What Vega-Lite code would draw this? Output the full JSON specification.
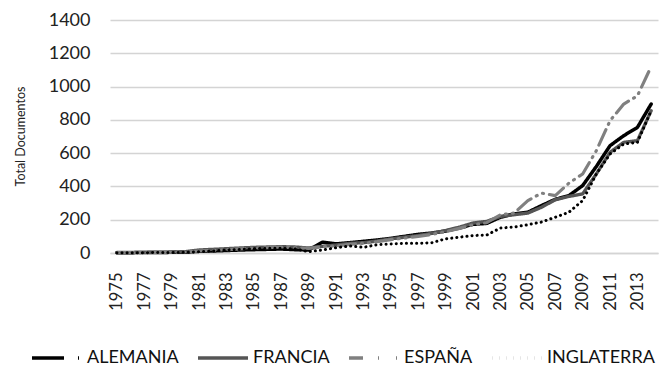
{
  "$schema": "https://vega.github.io/schema/vega-lite/v6.json",
  "width": 548,
  "height": 233,
  "autosize": {"type": "none"},
  "padding": {"left": 110, "top": 20, "right": 4, "bottom": 113},
  "background": "white",
  "config": {"font": "Lato", "view": {"stroke": null}},
  "datasets": {
    "d": [
      {"year":"1975","ALEMANIA":2,"FRANCIA":3,"ESPAÑA":2,"INGLATERRA":2},
      {"year":"1976","ALEMANIA":2,"FRANCIA":3,"ESPAÑA":2,"INGLATERRA":2},
      {"year":"1977","ALEMANIA":3,"FRANCIA":4,"ESPAÑA":3,"INGLATERRA":2},
      {"year":"1978","ALEMANIA":3,"FRANCIA":5,"ESPAÑA":4,"INGLATERRA":3},
      {"year":"1979","ALEMANIA":4,"FRANCIA":6,"ESPAÑA":5,"INGLATERRA":3},
      {"year":"1980","ALEMANIA":5,"FRANCIA":8,"ESPAÑA":6,"INGLATERRA":4},
      {"year":"1981","ALEMANIA":10,"FRANCIA":18,"ESPAÑA":12,"INGLATERRA":8},
      {"year":"1982","ALEMANIA":12,"FRANCIA":22,"ESPAÑA":15,"INGLATERRA":12},
      {"year":"1983","ALEMANIA":15,"FRANCIA":26,"ESPAÑA":20,"INGLATERRA":18},
      {"year":"1984","ALEMANIA":18,"FRANCIA":30,"ESPAÑA":25,"INGLATERRA":22},
      {"year":"1985","ALEMANIA":20,"FRANCIA":34,"ESPAÑA":30,"INGLATERRA":26},
      {"year":"1986","ALEMANIA":22,"FRANCIA":36,"ESPAÑA":32,"INGLATERRA":28},
      {"year":"1987","ALEMANIA":24,"FRANCIA":38,"ESPAÑA":36,"INGLATERRA":28},
      {"year":"1988","ALEMANIA":20,"FRANCIA":36,"ESPAÑA":32,"INGLATERRA":25},
      {"year":"1989","ALEMANIA":18,"FRANCIA":30,"ESPAÑA":28,"INGLATERRA":8},
      {"year":"1990","ALEMANIA":65,"FRANCIA":40,"ESPAÑA":38,"INGLATERRA":18},
      {"year":"1991","ALEMANIA":55,"FRANCIA":48,"ESPAÑA":42,"INGLATERRA":32},
      {"year":"1992","ALEMANIA":62,"FRANCIA":58,"ESPAÑA":52,"INGLATERRA":42},
      {"year":"1993","ALEMANIA":70,"FRANCIA":62,"ESPAÑA":58,"INGLATERRA":34},
      {"year":"1994","ALEMANIA":78,"FRANCIA":72,"ESPAÑA":68,"INGLATERRA":50},
      {"year":"1995","ALEMANIA":88,"FRANCIA":85,"ESPAÑA":80,"INGLATERRA":54},
      {"year":"1996","ALEMANIA":100,"FRANCIA":95,"ESPAÑA":90,"INGLATERRA":58},
      {"year":"1997","ALEMANIA":112,"FRANCIA":105,"ESPAÑA":100,"INGLATERRA":58},
      {"year":"1998","ALEMANIA":120,"FRANCIA":118,"ESPAÑA":112,"INGLATERRA":62},
      {"year":"1999","ALEMANIA":132,"FRANCIA":135,"ESPAÑA":128,"INGLATERRA":85},
      {"year":"2000","ALEMANIA":150,"FRANCIA":155,"ESPAÑA":148,"INGLATERRA":95},
      {"year":"2001","ALEMANIA":172,"FRANCIA":180,"ESPAÑA":170,"INGLATERRA":105},
      {"year":"2002","ALEMANIA":178,"FRANCIA":190,"ESPAÑA":182,"INGLATERRA":108},
      {"year":"2003","ALEMANIA":215,"FRANCIA":220,"ESPAÑA":230,"INGLATERRA":150},
      {"year":"2004","ALEMANIA":235,"FRANCIA":230,"ESPAÑA":240,"INGLATERRA":156},
      {"year":"2005","ALEMANIA":245,"FRANCIA":240,"ESPAÑA":315,"INGLATERRA":170},
      {"year":"2006","ALEMANIA":285,"FRANCIA":275,"ESPAÑA":360,"INGLATERRA":186},
      {"year":"2007","ALEMANIA":322,"FRANCIA":320,"ESPAÑA":345,"INGLATERRA":215},
      {"year":"2008","ALEMANIA":345,"FRANCIA":340,"ESPAÑA":420,"INGLATERRA":245},
      {"year":"2009","ALEMANIA":405,"FRANCIA":355,"ESPAÑA":475,"INGLATERRA":315},
      {"year":"2010","ALEMANIA":520,"FRANCIA":475,"ESPAÑA":615,"INGLATERRA":475},
      {"year":"2011","ALEMANIA":645,"FRANCIA":605,"ESPAÑA":795,"INGLATERRA":595},
      {"year":"2012","ALEMANIA":705,"FRANCIA":665,"ESPAÑA":895,"INGLATERRA":655},
      {"year":"2013","ALEMANIA":755,"FRANCIA":675,"ESPAÑA":945,"INGLATERRA":665},
      {"year":"2014","ALEMANIA":895,"FRANCIA":855,"ESPAÑA":1120,"INGLATERRA":855}
    ]
  },
  "data": {"name": "d"},
  "transform": [
    {"fold": ["ALEMANIA", "FRANCIA", "ESPAÑA", "INGLATERRA"], "as": ["pais", "docs"]}
  ],
  "encoding": {
    "x": {
      "field": "year", "type": "ordinal",
      "scale": {"type": "point", "padding": 0.5},
      "axis": {
        "title": null, "labelAngle": -90, "labelFontSize": 16.5, "labelColor": "#222",
        "labelPadding": 19, "ticks": false, "domain": true, "domainColor": "#d4d4d4", "domainWidth": 1.5,
        "labelExpr": "(+datum.value) % 2 == 1 ? datum.label : ''", "labelBaseline": "middle", "labelAlign": "right"
      }
    },
    "y": {
      "field": "docs", "type": "quantitative",
      "scale": {"domain": [0, 1400], "nice": false},
      "axis": {
        "title": "Total Documentos", "titleFontSize": 12.5, "titleFontWeight": "normal", "titleColor": "#222",
        "titleX": -90, "titleY": 116, "titleAngle": -90, "titleAlign": "center", "titleBaseline": "middle",
        "values": [0, 200, 400, 600, 800, 1000, 1200, 1400], "format": "d",
        "labelFontSize": 18, "labelColor": "#222", "labelPadding": 20, "ticks": false, "domain": false,
        "gridColor": "#d4d4d4", "gridWidth": 1.5
      }
    },
    "color": {
      "field": "pais", "type": "nominal",
      "scale": {"domain": ["ALEMANIA", "FRANCIA", "ESPAÑA", "INGLATERRA"], "range": ["#000000", "#555555", "#808080", "#000000"]},
      "legend": null
    },
    "strokeWidth": {
      "field": "pais", "type": "nominal",
      "scale": {"domain": ["ALEMANIA", "FRANCIA", "ESPAÑA", "INGLATERRA"], "range": [3.5, 3, 3, 3.5]},
      "legend": null
    }
  },
  "layer": [
    {
      "mark": {"type": "line", "strokeCap": "round", "strokeJoin": "round"},
      "encoding": {
        "strokeDash": {
          "field": "pais", "type": "nominal",
          "scale": {"domain": ["ALEMANIA", "FRANCIA", "ESPAÑA", "INGLATERRA"], "range": [[1, 0], [1, 0], [17, 6, 1, 6, 1, 6], [0.1, 5]]},
          "legend": null
        }
      }
    },
    {
      "transform": [{"filter": "false"}],
      "mark": {"type": "line", "strokeCap": "round", "strokeJoin": "round"},
      "encoding": {
        "strokeDash": {
          "field": "pais", "type": "nominal",
          "scale": {"domain": ["ALEMANIA", "FRANCIA", "ESPAÑA", "INGLATERRA"], "range": [[32, 14, 1, 20], [1, 0], [14, 15, 1, 17, 1, 20], [0.1, 7]]},
          "legend": {
            "title": null, "orient": "none", "direction": "horizontal", "columns": 4,
            "legendX": -80, "legendY": 311,
            "labelFontSize": 18, "labelColor": "#111", "symbolType": "stroke", "symbolSize": 2500,
            "symbolStrokeWidth": 3.5,
            "columnPadding": 12, "labelOffset": 3, "labelBaseline": "middle",
            "encode": {"symbols": {"update": {
              "stroke": {"signal": "datum.value == 'FRANCIA' ? '#555555' : (datum.value == 'ESPAÑA' ? '#808080' : '#000000')"}
            }}}
          }
        }
      }
    }
  ],
  "resolve": {"scale": {"strokeDash": "independent"}}
}
